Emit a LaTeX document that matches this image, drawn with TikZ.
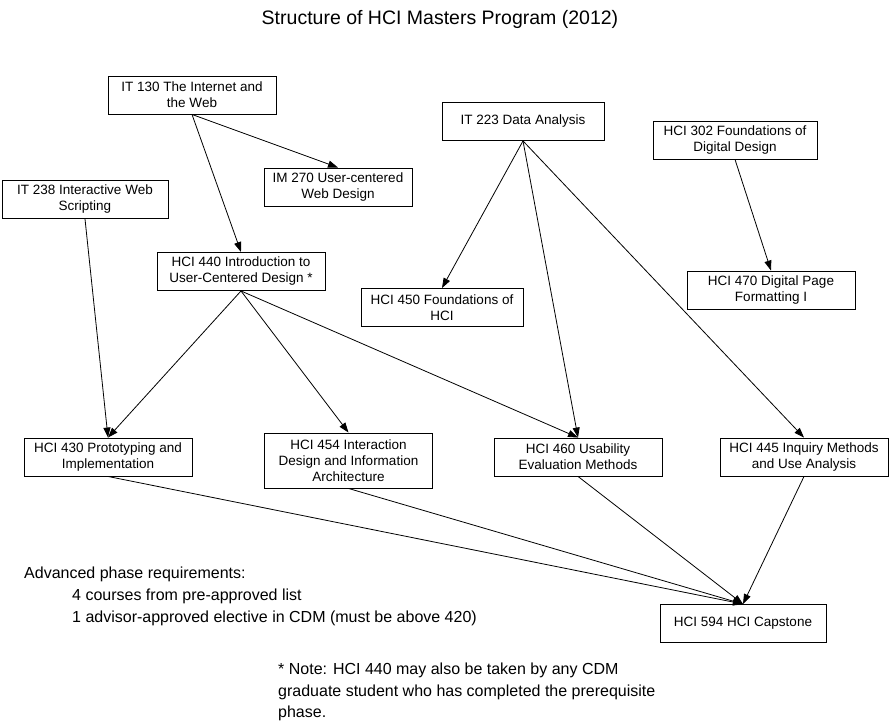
\documentclass[tikz,border=0pt]{standalone}
\usepackage{fontspec}
\setmainfont{Liberation Sans}
\usetikzlibrary{arrows.meta}
\begin{document}
\begin{tikzpicture}[x=1pt,y=-1pt,
  course/.style={draw=black, line width=0.9pt, rectangle, minimum width=168pt, minimum height=38pt,
    align=center, inner sep=2pt, font=\fontsize{13.5}{16}\selectfont},
  link/.style={line width=0.8pt, -{Triangle[length=10pt,width=7pt]}},
  plain/.style={align=left, inner sep=0pt, font=\fontsize{16}{22}\selectfont}]
\useasboundingbox (0,0) rectangle (889,722);
\node[font=\fontsize{19.5}{23}\selectfont, inner sep=0pt] (title) at (440,19) {Structure of HCI Masters Program (2012)};

\node[course] (it130) at (192,95) {IT 130 The Internet and\\the Web};
\node[course, minimum width=148pt] (im270) at (338,187) {IM 270 User-centered\\Web Design};
\node[course, minimum width=166pt] (it238) at (85,199.5) {IT 238 Interactive Web\\Scripting};
\node[course] (hci440) at (241,271.5) {HCI 440 Introduction to\\User-Centered Design *};
\node[course, minimum width=162pt] (it223) at (523,121.5) {IT 223 Data Analysis};
\node[course, minimum width=164pt] (hci302) at (735,140) {HCI 302 Foundations of\\Digital Design};
\node[course, minimum width=162pt] (hci450) at (442,307.5) {HCI 450 Foundations of\\HCI};
\node[course] (hci470) at (771,290) {HCI 470 Digital Page\\Formatting I};
\node[course] (hci430) at (108,457) {HCI 430 Prototyping and\\Implementation};
\node[course, minimum height=55pt] (hci454) at (348.5,460.5) {HCI 454 Interaction\\Design and Information\\Architecture};
\node[course] (hci460) at (578,457) {HCI 460 Usability\\Evaluation Methods};
\node[course] (hci445) at (804,457) {HCI 445 Inquiry Methods\\and Use Analysis};
\node[course, minimum width=166pt] (hci594) at (743,623.5) {HCI 594 HCI Capstone};

\draw[link] (it130.south) -- (im270.north);
\draw[link] (it130.south) -- (hci440.north);
\draw[link] (it238.south) -- (hci430.north);
\draw[link] (hci440.south) -- (hci430.north);
\draw[link] (hci440.south) -- (hci454.north);
\draw[link] (hci440.south) -- (hci460.north);
\draw[link] (it223.south) -- (hci450.north);
\draw[link] (it223.south) -- (hci460.north);
\draw[link] (it223.south) -- (hci445.north);
\draw[link] (hci302.south) -- (hci470.north);
\draw[link] (hci430.south) -- (hci594.north);
\draw[link] (hci454.south) -- (hci594.north);
\draw[link] (hci460.south) -- (hci594.north);
\draw[link] (hci445.south) -- (hci594.north);

\node[plain, anchor=north west] (adv) at (24,567) {Advanced phase requirements:\\
\hspace*{48pt}4 courses from pre-approved list\\
\hspace*{48pt}1 advisor-approved elective in CDM (must be above 420)};
\node[plain, anchor=north west, font=\fontsize{16}{21.5}\selectfont] (note) at (278,663) {* Note: HCI 440 may also be taken by any CDM\\
graduate student who has completed the prerequisite\\
phase.};
\end{tikzpicture}
\end{document}
